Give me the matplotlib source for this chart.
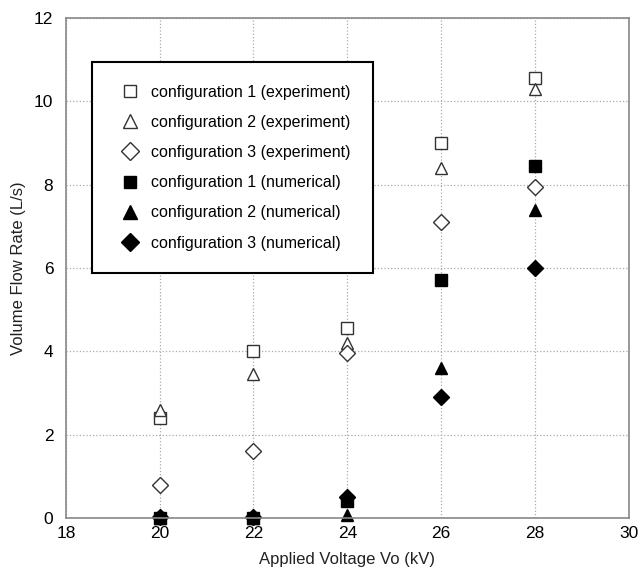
import matplotlib.pyplot as plt

plt.rcParams['font.family'] = ['Liberation Sans', 'DejaVu Sans']

# applied voltage (kV)
voltage = [20, 22, 24, 26, 28]

# volume flow rate (L/s)
exp_cfg1 = [2.4, 4.0, 4.55, 9.0, 10.55]
exp_cfg2 = [2.6, 3.45, 4.2, 8.4, 10.3]
exp_cfg3 = [0.8, 1.6, 3.95, 7.1, 7.95]
num_cfg1 = [0.0, 0.0, 0.4, 5.7, 8.45]
num_cfg2 = [0.0, 0.0, 0.08, 3.6, 7.4]
num_cfg3 = [0.02, 0.02, 0.5, 2.9, 6.0]

fig = plt.figure(figsize=(6.39, 5.73), dpi=100)
ax = fig.add_axes([0.103, 0.096, 0.881, 0.873])

# open markers for experiment, filled for numerical
ax.plot(voltage, exp_cfg1, linestyle="none", marker="s", ms=8, mfc="white",
        mec="#333333", mew=1, label="configuration 1 (experiment)", clip_on=False)
ax.plot(voltage, exp_cfg2, linestyle="none", marker="^", ms=9, mfc="white",
        mec="#333333", mew=1, label="configuration 2 (experiment)", clip_on=False)
ax.plot(voltage, exp_cfg3, linestyle="none", marker="D", ms=8, mfc="white",
        mec="#333333", mew=1, label="configuration 3 (experiment)", clip_on=False)
ax.plot(voltage, num_cfg1, linestyle="none", marker="s", ms=8, color="black",
        label="configuration 1 (numerical)", clip_on=False)
ax.plot(voltage, num_cfg2, linestyle="none", marker="^", ms=9, color="black",
        label="configuration 2 (numerical)", clip_on=False)
ax.plot(voltage, num_cfg3, linestyle="none", marker="D", ms=8, color="black",
        label="configuration 3 (numerical)", clip_on=False)

ax.set_xlim(18, 30)
ax.set_ylim(0, 12)
ax.set_xticks(range(18, 31, 2))
ax.set_yticks(range(0, 13, 2))
ax.tick_params(labelsize=12.5, length=0)
ax.tick_params(axis="x", pad=6)
ax.tick_params(axis="y", pad=9)
ax.grid(True, color="#aaaaaa", linestyle=":", linewidth=0.9)
for side in ax.spines.values():
    side.set_color("#888888")
    side.set_linewidth(1.2)

ax.set_xlabel("Applied Voltage Vo (kV)", fontsize=12, color="#222222", labelpad=8)
ax.set_ylabel("Volume Flow Rate (L/s)", fontsize=12, color="#222222", labelpad=6)

leg = ax.legend(loc="upper left", bbox_to_anchor=(0.046, 0.911), fontsize=11.5,
                frameon=True, fancybox=False, framealpha=1, labelspacing=0.95,
                borderpad=1.4, handlelength=2.0, handletextpad=0.3,
                borderaxespad=0, markerscale=1.15)
leg.get_frame().set_edgecolor("black")
leg.get_frame().set_linewidth(1.5)

plt.savefig("out.png", dpi=100)
